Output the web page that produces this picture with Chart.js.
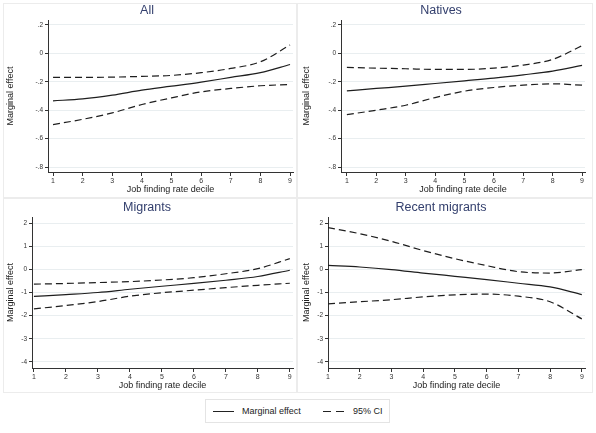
<!DOCTYPE html>
<html>
<head>
<meta charset="utf-8">
<script src="https://cdn.jsdelivr.net/npm/chart.js@4.4.1/dist/chart.umd.min.js"></script>
<style>
  body { margin: 0; background: #fff; font-family: "Liberation Sans", Arial, sans-serif; }
  #wrap { position: relative; width: 596px; height: 433px; overflow: hidden; }
  .panel { position: absolute; border: 1px solid #ececec; box-sizing: border-box; }
  canvas { position: absolute; }
  #legend { position: absolute; left: 205px; top: 399px; width: 185px; height: 24px;
            border: 1px solid #e4e4e4; box-sizing: border-box; font-size: 9px; color: #222; }
  .li { position: absolute; top: 6px; line-height: 10px; }
  .ls { position: absolute; top: 11px; height: 0; border-top: 1.2px solid #222; }
</style>
</head>
<body>
<div id="wrap">
  <div class="panel" style="left:3px;top:3px;width:294px;height:195px"></div>
  <div class="panel" style="left:297px;top:3px;width:296px;height:195px"></div>
  <div class="panel" style="left:3px;top:198px;width:294px;height:195px"></div>
  <div class="panel" style="left:297px;top:198px;width:296px;height:195px"></div>
  <canvas id="c0" width="296" height="197" style="left:0;top:0"></canvas>
  <canvas id="c1" width="300" height="197" style="left:296px;top:0"></canvas>
  <canvas id="c2" width="296" height="196" style="left:0;top:197px"></canvas>
  <canvas id="c3" width="300" height="196" style="left:296px;top:197px"></canvas>
  <div id="legend">
    <span class="ls" style="left:7px;width:21px"></span><span class="li" style="left:36px">Marginal effect</span>
    <span class="ls" style="left:117px;width:8px"></span><span class="ls" style="left:130px;width:8px"></span>
    <span class="li" style="left:147px">95% CI</span>
  </div>
</div>
<script>
const deciles = [1, 2, 3, 4, 5, 6, 7, 8, 9];

const allEffect = [-0.334, -0.32, -0.294, -0.259, -0.231, -0.202, -0.169, -0.136, -0.078];
const allUpper = [-0.169, -0.169, -0.167, -0.162, -0.155, -0.136, -0.106, -0.059, 0.059];
const allLower = [-0.501, -0.464, -0.419, -0.36, -0.313, -0.271, -0.247, -0.228, -0.219];

const nativesEffect = [-0.264, -0.247, -0.231, -0.212, -0.193, -0.174, -0.151, -0.125, -0.085];
const nativesUpper = [-0.099, -0.104, -0.108, -0.113, -0.113, -0.104, -0.082, -0.042, 0.054];
const nativesLower = [-0.431, -0.4, -0.365, -0.311, -0.266, -0.24, -0.224, -0.214, -0.224];

const migrantsEffect = [-1.17, -1.09, -1.0, -0.86, -0.73, -0.61, -0.47, -0.31, -0.04];
const migrantsUpper = [-0.64, -0.61, -0.57, -0.53, -0.46, -0.36, -0.19, 0.03, 0.46];
const migrantsLower = [-1.71, -1.56, -1.39, -1.16, -1.01, -0.9, -0.79, -0.69, -0.6];

const recentEffect = [0.17, 0.1, -0.01, -0.16, -0.3, -0.44, -0.6, -0.76, -1.09];
const recentUpper = [1.8, 1.54, 1.21, 0.81, 0.46, 0.16, -0.1, -0.16, -0.01];
const recentLower = [-1.49, -1.4, -1.31, -1.19, -1.1, -1.07, -1.16, -1.4, -2.14];

const topTicks = [0.2, 0, -0.2, -0.4, -0.6, -0.8];
const topTickLabels = ['.2', '0', '-.2', '-.4', '-.6', '-.8'];
const bottomTicks = [2, 1, 0, -1, -2, -3, -4];
const bottomTickLabels = ['2', '1', '0', '-1', '-2', '-3', '-4'];

const FONT = '"Liberation Sans", Arial, sans-serif';

function makeLine(data, dashed) {
    return {
        data: deciles.map((d, i) => ({ x: d, y: data[i] })),
        borderColor: '#1e1e1e',
        borderWidth: 1.2,
        borderDash: dashed ? [7, 4] : [],
        pointRadius: 0,
        cubicInterpolationMode: 'monotone',
        fill: false
    };
}

function drawPanel(id, title, effect, upper, lower, ticks, labels, yRange, xMin, yWidth, xHeight) {
    const ctx = document.getElementById(id).getContext('2d');
    new Chart(ctx, {
        type: 'line',
        data: {
            datasets: [makeLine(upper, true), makeLine(lower, true), makeLine(effect, false)]
        },
        options: {
            responsive: false,
            animation: false,
            devicePixelRatio: 1,
            layout: { padding: { left: 1, right: id === 'c0' || id === 'c2' ? 3 : 11, top: 0, bottom: 0 } },
            plugins: {
                legend: { display: false },
                tooltip: { enabled: false },
                title: {
                    display: true,
                    text: title,
                    color: '#34406e',
                    font: { family: FONT, size: 12.5, weight: 'normal' },
                    padding: { top: 3.5, bottom: 1.5 }
                }
            },
            scales: {
                x: {
                    type: 'linear',
                    min: xMin,
                    max: 9.1,
                    afterBuildTicks: s => { s.ticks = deciles.map(v => ({ value: v })); },
                    afterFit: s => { s.height = xHeight; },
                    ticks: { color: '#333', font: { family: FONT, size: 7 }, padding: 1, maxRotation: 0, autoSkip: false },
                    grid: { drawOnChartArea: false, tickColor: '#333', tickLength: 4 },
                    border: { color: '#333', width: 1 },
                    title: { display: true, text: 'Job finding rate decile', color: '#222',
                             font: { family: FONT, size: 9 }, padding: { top: 0, bottom: 2 } }
                },
                y: {
                    min: yRange[0],
                    max: yRange[1],
                    afterBuildTicks: s => { s.ticks = ticks.map(v => ({ value: v })); },
                    afterFit: s => { s.width = yWidth; },
                    ticks: {
                        color: '#333', font: { family: FONT, size: 6.5 }, padding: 2,
                        callback: v => labels[ticks.findIndex(t => Math.abs(t - v) < 1e-9)]
                    },
                    grid: { color: '#e9eef0', lineWidth: 1, tickColor: '#333', tickLength: 3 },
                    border: { color: '#333', width: 1 },
                    title: { display: true, text: 'Marginal effect', color: '#222',
                             font: { family: FONT, size: 9 }, padding: { top: 4, bottom: 0 } }
                }
            }
        }
    });
}

drawPanel('c0', 'All', allEffect, allUpper, allLower, topTicks, topTickLabels, [-0.835, 0.235], 0.83, 47, 25);
drawPanel('c1', 'Natives', nativesEffect, nativesUpper, nativesLower, topTicks, topTickLabels, [-0.835, 0.235], 0.8, 44, 25);
drawPanel('c2', 'Migrants', migrantsEffect, migrantsUpper, migrantsLower, bottomTicks, bottomTickLabels, [-4.26, 2.26], 0.94, 31, 25);
drawPanel('c3', 'Recent migrants', recentEffect, recentUpper, recentLower, bottomTicks, bottomTickLabels, [-4.26, 2.26], 1.0, 31, 25);
</script>
</body>
</html>
